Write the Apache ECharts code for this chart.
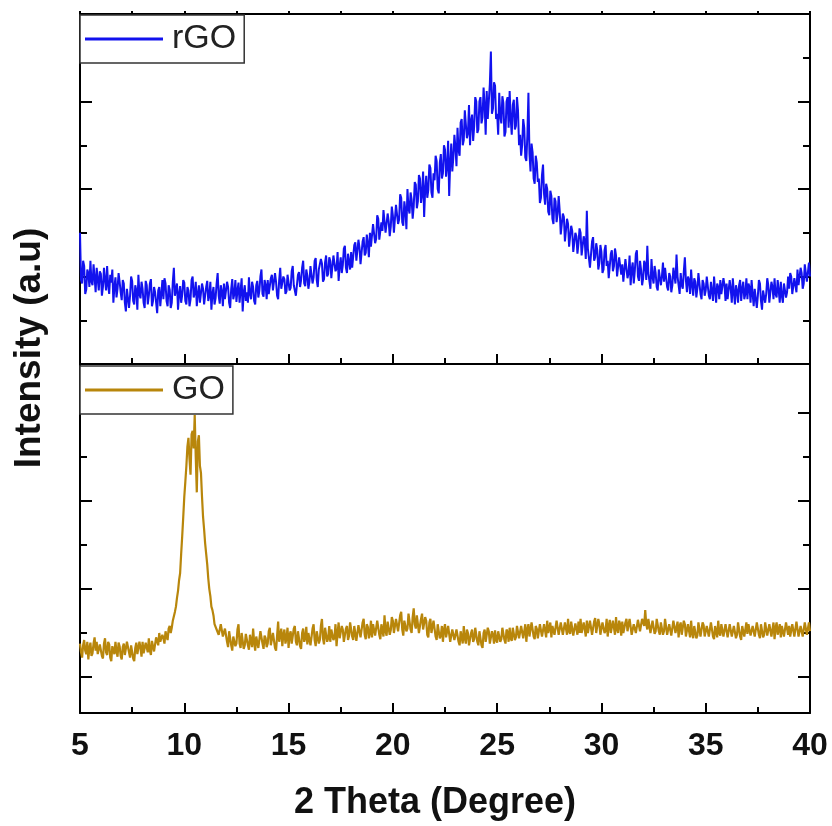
<!DOCTYPE html>
<html>
<head>
<meta charset="utf-8">
<title>XRD patterns of GO and rGO</title>
<script src="https://cdn.jsdelivr.net/npm/echarts@6/dist/echarts.min.js"></script>
<style>
  html, body { margin: 0; padding: 0; background: #ffffff; }
  #chart { width: 832px; height: 826px; }
</style>
</head>
<body>
<div id="chart"></div>
<script>
// Scan settings: 2θ from 5° to 40° in 0.05° steps
const scanStart = 5.0;
const scanStepsPerDegree = 20;

// Axis tick values
const thetaTicks = [5, 10, 15, 20, 25, 30, 35, 40];
const goMajorTicks = [0, 100, 200, 300];
const goMinorTicks = [50, 150, 250];

// rGO intensity (a.u.), one row per degree (5.00-5.95, 6.00-6.95, ...), last value at 40.00
const rgoIntensity = [
  150, 96, 92, 118, 112, 80, 85, 108, 104, 88, 118, 94, 90, 114, 99, 82, 110, 97, 84, 106,
  103, 78, 88, 110, 96, 84, 112, 90, 80, 102, 93, 108, 70, 88, 99, 76, 86, 104, 94, 82,
  73, 96, 92, 70, 60, 86, 88, 64, 78, 100, 95, 72, 68, 90, 84, 62, 102, 80, 75, 94,
  86, 70, 64, 95, 90, 68, 78, 92, 97, 66, 72, 88, 82, 70, 58, 84, 88, 66, 80, 96,
  74, 98, 92, 72, 66, 90, 85, 64, 70, 94, 110, 78, 76, 92, 62, 80, 89, 70, 79, 96,
  93, 72, 68, 88, 84, 66, 74, 96, 100, 76, 81, 94, 66, 80, 90, 70, 72, 92, 86, 68,
  70, 88, 95, 72, 78, 94, 62, 80, 88, 68, 75, 92, 104, 78, 69, 90, 83, 66, 92, 74,
  76, 94, 88, 70, 64, 86, 97, 74, 80, 96, 71, 84, 93, 70, 84, 98, 60, 82, 90, 72,
  82, 70, 99, 80, 74, 94, 88, 72, 68, 90, 95, 76, 84, 100, 108, 80, 77, 96, 90, 74,
  96, 80, 79, 98, 102, 84, 86, 104, 94, 78, 74, 96, 110, 86, 88, 100, 97, 80, 83, 102,
  100, 84, 87, 106, 112, 90, 92, 78, 80, 102, 105, 88, 96, 110, 118, 92, 89, 108, 101, 86,
  94, 112, 110, 92, 99, 118, 121, 96, 88, 108, 106, 120, 115, 94, 97, 116, 124, 100, 103, 122,
  118, 98, 100, 124, 126, 106, 109, 128, 95, 112, 122, 104, 113, 132, 135, 110, 104, 126, 117, 108,
  128, 110, 112, 136, 139, 118, 120, 142, 133, 114, 116, 140, 145, 124, 127, 148, 138, 122, 150, 134,
  134, 160, 158, 138, 143, 170, 166, 142, 140, 162, 152, 176, 178, 150, 148, 172, 163, 146, 157, 180,
  170, 150, 152, 182, 183, 160, 165, 194, 190, 162, 158, 186, 176, 154, 200, 178, 172, 196, 188, 166,
  180, 208, 205, 178, 186, 216, 212, 184, 194, 220, 168, 200, 215, 190, 199, 228, 224, 196, 190, 218,
  210, 238, 232, 200, 195, 230, 240, 212, 218, 250, 245, 214, 226, 255, 192, 230, 252, 220, 236, 262,
  248, 226, 270, 244, 238, 276, 280, 250, 256, 290, 292, 258, 264, 296, 250, 278, 285, 255, 272, 305,
  300, 264, 268, 300, 305, 275, 282, 316, 296, 262, 312, 280, 278, 320, 357, 286, 292, 322, 318, 280,
  286, 262, 310, 284, 275, 306, 298, 260, 265, 300, 305, 270, 312, 280, 262, 296, 302, 268, 272, 305,
  290, 250, 262, 238, 250, 280, 270, 236, 232, 262, 310, 240, 220, 252, 242, 212, 206, 238, 230, 208,
  212, 184, 190, 216, 228, 194, 182, 206, 200, 174, 170, 198, 192, 166, 160, 190, 186, 162, 172, 192,
  175, 148, 150, 172, 168, 140, 142, 166, 160, 134, 135, 158, 152, 128, 128, 150, 146, 126, 138, 155,
  150, 124, 126, 146, 140, 120, 175, 132, 134, 110, 112, 140, 145, 118, 122, 138, 130, 108, 115, 136,
  128, 104, 108, 130, 136, 112, 118, 98, 100, 126, 130, 106, 112, 132, 124, 100, 98, 122, 120, 102,
  114, 94, 96, 120, 122, 98, 104, 124, 90, 108, 116, 92, 106, 126, 130, 100, 95, 118, 108, 90,
  98, 118, 114, 96, 135, 104, 106, 86, 120, 100, 92, 112, 104, 88, 84, 108, 110, 90, 100, 116,
  94, 110, 108, 88, 84, 104, 100, 82, 90, 110, 112, 92, 125, 100, 98, 80, 104, 90, 86, 106,
  122, 96, 82, 100, 96, 80, 108, 90, 78, 98, 94, 76, 86, 104, 102, 80, 74, 96, 92, 78,
  84, 100, 98, 78, 74, 94, 92, 72, 100, 84, 70, 92, 88, 74, 96, 80, 78, 98, 90, 72,
  92, 74, 76, 96, 86, 70, 98, 82, 68, 90, 84, 70, 90, 96, 72, 86, 94, 74, 80, 98,
  74, 92, 88, 70, 96, 80, 66, 86, 84, 64, 78, 96, 92, 72, 62, 84, 86, 70, 80, 98,
  90, 70, 72, 94, 88, 74, 98, 80, 76, 96, 84, 70, 94, 78, 70, 92, 92, 76, 82, 100,
  86, 104, 100, 80, 78, 98, 96, 82, 108, 90, 88, 110, 104, 86, 92, 114, 112, 94, 96, 116,
  100
];

// GO intensity (a.u.), same layout
const goIntensity = [
  38, 28, 22, 36, 42, 30, 26, 40, 20, 33, 39, 24, 27, 38, 45, 30, 40, 26, 24, 37,
  36, 24, 21, 38, 44, 28, 25, 40, 37, 22, 18, 35, 33, 26, 40, 29, 23, 39, 35, 24,
  20, 34, 38, 25, 26, 40, 42, 28, 22, 36, 35, 21, 18, 33, 39, 26, 27, 40, 33, 23,
  40, 27, 26, 39, 37, 28, 44, 30, 25, 41, 39, 29, 28, 45, 43, 36, 50, 40, 38, 48,
  44, 38, 52, 46, 42, 55, 58, 50, 56, 64, 66, 74, 80, 90, 98, 110, 118, 140, 160, 182,
  205, 222, 240, 262, 272, 248, 230, 276, 280, 260, 298, 250, 210, 268, 275, 240, 232, 205, 182, 168,
  152, 140, 128, 112, 100, 92, 80, 76, 70, 60, 62, 54, 56, 48, 50, 60, 58, 46, 45, 55,
  56, 40, 34, 52, 50, 36, 30, 46, 47, 35, 38, 54, 60, 38, 33, 50, 48, 32, 36, 49,
  50, 36, 31, 48, 46, 34, 55, 40, 30, 46, 48, 33, 35, 52, 52, 38, 32, 47, 44, 34,
  38, 52, 56, 36, 34, 50, 49, 33, 30, 47, 63, 40, 41, 55, 35, 48, 54, 38, 44, 56,
  33, 48, 52, 38, 40, 55, 58, 40, 36, 52, 50, 35, 32, 50, 55, 40, 44, 57, 37, 50,
  52, 36, 38, 55, 60, 42, 35, 52, 50, 38, 42, 58, 66, 44, 37, 56, 54, 40, 44, 58,
  40, 54, 56, 42, 45, 60, 35, 50, 62, 44, 42, 58, 54, 40, 38, 55, 58, 42, 47, 62,
  64, 46, 42, 58, 56, 41, 40, 59, 60, 45, 46, 62, 66, 48, 43, 60, 57, 44, 50, 64,
  45, 60, 62, 47, 49, 64, 66, 48, 43, 60, 58, 46, 70, 52, 47, 63, 61, 48, 53, 68,
  64, 50, 48, 66, 68, 52, 52, 70, 74, 54, 47, 64, 66, 52, 55, 72, 70, 54, 50, 68,
  78, 60, 55, 70, 68, 50, 48, 66, 72, 54, 53, 68, 64, 48, 45, 62, 66, 50, 52, 64,
  62, 46, 42, 60, 58, 44, 47, 58, 40, 54, 60, 45, 44, 58, 56, 40, 38, 54, 52, 42,
  40, 54, 56, 40, 36, 52, 51, 38, 58, 44, 38, 54, 50, 36, 34, 50, 54, 40, 43, 56,
  56, 40, 36, 52, 50, 36, 33, 50, 54, 40, 41, 56, 52, 38, 37, 52, 48, 38, 53, 42,
  39, 52, 54, 40, 43, 56, 58, 42, 38, 54, 51, 40, 56, 44, 41, 56, 54, 42, 45, 58,
  57, 44, 42, 58, 59, 44, 46, 60, 40, 54, 60, 46, 47, 62, 62, 46, 43, 58, 55, 44,
  46, 60, 61, 46, 44, 60, 58, 45, 64, 50, 48, 62, 45, 58, 60, 48, 50, 64, 62, 48,
  50, 62, 64, 48, 47, 62, 60, 48, 66, 52, 49, 63, 62, 47, 46, 61, 59, 48, 63, 50,
  66, 50, 48, 62, 60, 46, 64, 50, 50, 64, 62, 48, 47, 63, 67, 50, 52, 66, 60, 48,
  49, 62, 64, 50, 53, 66, 46, 58, 65, 50, 51, 64, 62, 48, 68, 54, 50, 64, 60, 47,
  63, 50, 48, 62, 66, 52, 53, 66, 64, 48, 46, 60, 62, 50, 51, 65, 67, 52, 54, 66,
  64, 58, 76, 60, 54, 66, 66, 50, 50, 64, 63, 49, 52, 66, 67, 52, 48, 62, 61, 48,
  52, 66, 64, 48, 46, 60, 60, 47, 49, 64, 66, 50, 52, 63, 45, 58, 62, 48, 50, 64,
  60, 46, 46, 60, 58, 45, 64, 50, 44, 58, 57, 44, 47, 62, 61, 46, 48, 62, 59, 46,
  46, 58, 60, 46, 48, 62, 62, 46, 43, 58, 57, 45, 64, 50, 47, 60, 59, 46, 45, 60,
  59, 45, 46, 60, 61, 46, 44, 58, 58, 44, 48, 62, 63, 46, 42, 58, 59, 46, 47, 62,
  49, 60, 62, 47, 45, 58, 59, 46, 47, 62, 64, 48, 44, 60, 58, 45, 48, 62, 61, 47,
  46, 60, 60, 46, 48, 62, 43, 56, 62, 48, 49, 60, 45, 58, 59, 46, 47, 62, 61, 48,
  58, 46, 45, 60, 60, 46, 48, 63, 62, 46, 44, 58, 59, 46, 47, 62, 61, 48, 49, 62,
  52
];

// Pair each intensity with its 2θ position
function toPoints(values) {
  return values.map((v, i) => [(scanStart * scanStepsPerDegree + i) / scanStepsPerDegree, v]);
}

const fontFamily = '"Liberation Sans", Arial, Helvetica, sans-serif';
const frameLine = { show: true, onZero: false, lineStyle: { color: '#000', width: 2 } };
const tickStyle = { color: '#000', width: 2 };
const noLabel = { show: false };
const noSplit = { show: false };

const chart = echarts.init(document.getElementById('chart'), null, { renderer: 'canvas' });

chart.setOption({
  animation: false,
  backgroundColor: '#ffffff',
  grid: [
    { left: 80, right: 22, top: 14, height: 350 },
    { left: 80, right: 22, top: 364, height: 349 }
  ],
  xAxis: [
    { // divider between the panels, ticks pointing up into the rGO panel
      type: 'value', gridIndex: 0, position: 'bottom',
      min: thetaTicks[0], max: thetaTicks[thetaTicks.length - 1], interval: 5,
      axisLine: frameLine,
      axisTick: { show: true, inside: true, length: 10, lineStyle: tickStyle },
      minorTick: { show: true, splitNumber: 2, length: 6, lineStyle: tickStyle },
      axisLabel: noLabel, splitLine: noSplit, minorSplitLine: noSplit
    },
    { // top frame
      type: 'value', gridIndex: 0, position: 'top',
      min: thetaTicks[0], max: thetaTicks[thetaTicks.length - 1], interval: 5,
      axisLine: frameLine,
      axisTick: { show: true, inside: false, length: 3, lineStyle: tickStyle },
      minorTick: { show: true, splitNumber: 2, length: 3, lineStyle: tickStyle },
      axisLabel: noLabel, splitLine: noSplit, minorSplitLine: noSplit
    },
    { // main 2θ axis
      type: 'value', gridIndex: 1, position: 'bottom',
      min: thetaTicks[0], max: thetaTicks[thetaTicks.length - 1], interval: 5,
      name: '2 Theta (Degree)', nameLocation: 'middle', nameGap: 72,
      nameTextStyle: { fontFamily, fontSize: 36, fontWeight: 'bold', color: '#111', padding: [0, 20, 0, 0] },
      axisLine: frameLine,
      axisTick: { show: true, inside: true, length: 10, lineStyle: tickStyle },
      minorTick: { show: true, splitNumber: 2, length: 6, lineStyle: tickStyle },
      axisLabel: { show: true, margin: 17, fontFamily, fontSize: 32, fontWeight: 'bold', color: '#111',
                   customValues: thetaTicks },
      splitLine: noSplit, minorSplitLine: noSplit
    }
  ],
  yAxis: [
    { // rGO panel, left
      type: 'value', gridIndex: 0, position: 'left', min: 0, max: 400, interval: 100,
      axisLine: frameLine,
      axisTick: { show: true, inside: true, length: 12, lineStyle: tickStyle },
      minorTick: { show: true, splitNumber: 2, length: 7, lineStyle: tickStyle },
      axisLabel: noLabel, splitLine: noSplit, minorSplitLine: noSplit
    },
    { // rGO panel, right
      type: 'value', gridIndex: 0, position: 'right', min: 0, max: 400, interval: 100,
      axisLine: frameLine,
      axisTick: { show: true, inside: true, length: 12, lineStyle: tickStyle },
      minorTick: { show: true, splitNumber: 2, length: 7, lineStyle: tickStyle },
      axisLabel: noLabel, splitLine: noSplit, minorSplitLine: noSplit
    },
    { // GO panel, left (major ticks)
      type: 'value', gridIndex: 1, position: 'left', min: -41, max: 356,
      axisLine: frameLine,
      axisTick: { show: true, inside: true, length: 12, customValues: goMajorTicks, lineStyle: tickStyle },
      axisLabel: noLabel, splitLine: noSplit
    },
    { // GO panel, right (major ticks)
      type: 'value', gridIndex: 1, position: 'right', min: -41, max: 356,
      axisLine: frameLine,
      axisTick: { show: true, inside: true, length: 12, customValues: goMajorTicks, lineStyle: tickStyle },
      axisLabel: noLabel, splitLine: noSplit
    },
    { // GO panel, left (minor ticks)
      type: 'value', gridIndex: 1, position: 'left', min: -41, max: 356,
      axisLine: { show: false },
      axisTick: { show: true, inside: true, length: 7, customValues: goMinorTicks, lineStyle: tickStyle },
      axisLabel: noLabel, splitLine: noSplit
    },
    { // GO panel, right (minor ticks)
      type: 'value', gridIndex: 1, position: 'right', min: -41, max: 356,
      axisLine: { show: false },
      axisTick: { show: true, inside: true, length: 7, customValues: goMinorTicks, lineStyle: tickStyle },
      axisLabel: noLabel, splitLine: noSplit
    }
  ],
  legend: [
    {
      data: ['rGO'], left: 80, top: 15, icon: 'rect', itemWidth: 78, itemHeight: 3,
      padding: [7, 8, 7, 5], borderColor: '#333', borderWidth: 1.5, backgroundColor: '#ffffff',
      selectedMode: false,
      textStyle: { fontFamily, fontSize: 34, color: '#222', padding: [0, 0, 0, 4] }
    },
    {
      data: ['GO'], left: 80, top: 366, icon: 'rect', itemWidth: 78, itemHeight: 3,
      padding: [7, 8, 7, 5], borderColor: '#333', borderWidth: 1.5, backgroundColor: '#ffffff',
      selectedMode: false,
      textStyle: { fontFamily, fontSize: 34, color: '#222', padding: [0, 0, 0, 4] }
    }
  ],
  graphic: [
    {
      type: 'text', x: 30, y: 348, rotation: Math.PI / 2,
      style: {
        text: 'Intensity (a.u)', fill: '#111',
        font: 'bold 37px ' + fontFamily, align: 'center', verticalAlign: 'middle'
      }
    }
  ],
  series: [
    {
      name: 'rGO', type: 'line', xAxisIndex: 0, yAxisIndex: 0,
      data: toPoints(rgoIntensity), showSymbol: false, symbol: 'none',
      color: '#1212ee', lineStyle: { width: 2, color: '#1212ee' }, z: 2
    },
    {
      name: 'GO', type: 'line', xAxisIndex: 2, yAxisIndex: 2,
      data: toPoints(goIntensity), showSymbol: false, symbol: 'none',
      color: '#b8860b', lineStyle: { width: 2.2, color: '#b8860b' }, z: 2
    }
  ]
});
</script>
</body>
</html>
